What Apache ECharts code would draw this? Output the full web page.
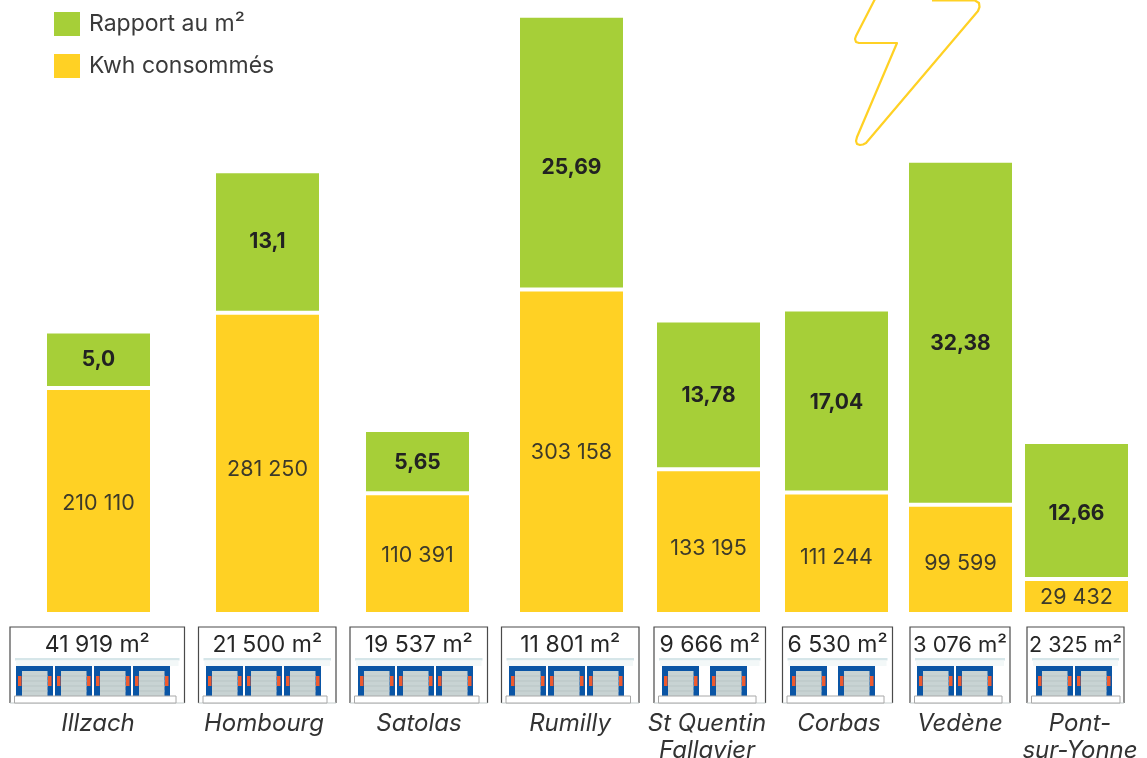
<!DOCTYPE html>
<html>
<head>
<meta charset="utf-8">
<title>Kwh consommés</title>
<script src="https://cdn.jsdelivr.net/npm/echarts@6/dist/echarts.min.js"></script>
<style>
html,body{margin:0;padding:0;background:#fff;}
#chart{width:1147px;height:758px;}
</style>
</head>
<body>
<div id="chart"></div>
<script>
// valeurs
var sites = ['Illzach','Hombourg','Satolas','Rumilly','St Quentin\nFallavier','Corbas','Vedène','Pont-\nsur-Yonne'];
var kwh = [210110,281250,110391,303158,133195,111244,99599,29432];
var rapport = [5.0,13.1,5.65,25.69,13.78,17.04,32.38,12.66];
var rapportLabels = ['5,0','13,1','5,65','25,69','13,78','17,04','32,38','12,66'];
var surfaces = ['41 919 m²','21 500 m²','19 537 m²','11 801 m²','9 666 m²','6 530 m²','3 076 m²','2 325 m²'];
var portes = [4,3,3,3,2,2,2,2];

// mise en page (en pixels, l'axe x va de 0 a 1147)
var barX = [98.5,267.5,417.5,571.5,708.5,836.5,960.5,1076.5];
var siteX = [98,264,419,570,707,839,960,1080];
var boxLeft = [10,198.5,350,501.5,654,782.5,910,1027];
var boxRight = [184.5,336,487.5,639,765.5,892.5,1010,1124];
var baseRight = [176,327,479,630.5,756,884,1002,1120];
var doorX = [16,206,358,509,662,790,917,1036];
var doorPitch = [39,39,39,39,48,48,39,39];
var surfaceSize = [23,23,23,23,23,23,22,21.5];
var kwhLabelDy = [3,6,2,1,7,4,4,1];       // les textes ne sont pas tous au milieu
var rapportLabelDy = [0,0,1,15,1,2,11,3];
var boltPoints = [[875,-1],[856,36],[855,39],[856,42],[859,43],[897,43],[857,137],[856,141],[857,144],[860,145],[863,144.5],[866,143],[978,11],[979.5,7],[979,3],[975,0.5],[932,0.5]];

var FONT = 'Inter, "Noto Sans", sans-serif';
var GREEN = '#a6cf38';
var YELLOW = '#ffd124';
var BAR_W = 103;
var RATIO_SCALE = 9934; // les deux series n'ont pas la meme echelle
var GAP = 3784;         // blanc entre le jaune et le vert

function fmtKwh(v){
	return String(v).replace(/\B(?=(\d{3})+$)/g,' ');
}

// rectangle de bas a haut, avec son texte au milieu
function barRenderer(color,labels,labelDy,textStyle){
	return function(params,api){
		var p0 = api.coord([api.value(0),api.value(1)]);
		var p1 = api.coord([api.value(0),api.value(2)]);
		return {type:'group',children:[
			{type:'rect',shape:{x:p0[0]-BAR_W/2,y:p1[1],width:BAR_W,height:p0[1]-p1[1]},style:{fill:color}},
			{type:'text',style:{x:p0[0],y:(p0[1]+p1[1])/2+labelDy[params.dataIndex],text:labels[params.dataIndex],textAlign:'center',textVerticalAlign:'middle',
				fontSize:textStyle.fontSize,fontWeight:textStyle.fontWeight,fontFamily:FONT,fill:textStyle.fill}}
		]};
	};
}

function buildGraphic(){
	var g = [];
	// eclair
	g.push({type:'polyline',shape:{points:boltPoints},style:{fill:'none',stroke:YELLOW,lineWidth:2.2,lineJoin:'round'}});
	sites.forEach(function(name,i){
		var l = boxLeft[i], r = boxRight[i];
		g.push({type:'polyline',shape:{points:[[l,703],[l,627],[r,627],[r,703]]},style:{fill:'none',stroke:'#4a4a4a',lineWidth:1.2}});
		g.push({type:'line',shape:{x1:l,y1:703,x2:r,y2:703},style:{stroke:'#c4cccc',lineWidth:1}});
		g.push({type:'text',style:{x:(l+r)/2,y:645.5,text:surfaces[i],textAlign:'center',textVerticalAlign:'middle',fontSize:surfaceSize[i],fontFamily:FONT,fill:'#262626'}});
		// auvent
		g.push({type:'rect',shape:{x:l+5,y:658,width:r-l-10,height:2.5},style:{fill:'#d6e6e9'}});
		g.push({type:'rect',shape:{x:l+6,y:660.5,width:r-l-12,height:5.5},style:{fill:'#f3f8f8'}});
		for(var d=0;d<portes[i];d++){
			var x = doorX[i]+d*doorPitch[i];
			g.push({type:'rect',shape:{x:x,y:666,width:37,height:30},style:{fill:'#0a55a5'}});
			g.push({type:'rect',shape:{x:x+6,y:671,width:25.5,height:25},style:{fill:'#c8d3d3'}});
			for(var s=1;s<5;s++){
				g.push({type:'line',shape:{x1:x+6,y1:671+s*5,x2:x+31.5,y2:671+s*5},style:{stroke:'#b9c5c5',lineWidth:1}});
			}
			g.push({type:'rect',shape:{x:x+2,y:676,width:3.5,height:10},style:{fill:'#ee5a2e'}});
			g.push({type:'rect',shape:{x:x+32,y:676,width:3.5,height:10},style:{fill:'#ee5a2e'}});
		}
		// quai
		g.push({type:'rect',shape:{x:l+4.5,y:696,width:baseRight[i]-l-4.5,height:7},style:{fill:'#fff',stroke:'#a8a8a8',lineWidth:1}});
		g.push({type:'text',style:{x:siteX[i],y:name.indexOf('\n')>0?737:723.5,text:name,textAlign:'center',textVerticalAlign:'middle',
			fontSize:24,fontStyle:'italic',fontFamily:FONT,fill:'#333',lineHeight:27}});
	});
	return g;
}

var chart = echarts.init(document.getElementById('chart'));
chart.setOption({
	animation:false,
	backgroundColor:'#fff',
	textStyle:{fontFamily:FONT},
	grid:{left:0,right:0,top:0,bottom:146},
	legend:{
		left:54,top:12,padding:0,orient:'vertical',selectedMode:false,icon:'rect',
		itemWidth:26,itemHeight:24,itemGap:18,
		textStyle:{fontSize:23,color:'#3a3a3a',fontFamily:FONT,padding:[4,0,0,4]},
		data:['Rapport au m²','Kwh consommés']
	},
	xAxis:{type:'value',min:0,max:1147,show:false},
	yAxis:{type:'value',min:0,max:579000,show:false},
	series:[
		{
			name:'Kwh consommés',type:'custom',
			itemStyle:{color:YELLOW},
			encode:{x:0,y:[1,2]},
			renderItem:barRenderer(YELLOW,kwh.map(fmtKwh),kwhLabelDy,{fontSize:21.5,fill:'#3d3a2a'}),
			data:kwh.map(function(v,i){return [barX[i],0,v];})
		},
		{
			name:'Rapport au m²',type:'custom',
			itemStyle:{color:GREEN},
			encode:{x:0,y:[1,2]},
			renderItem:barRenderer(GREEN,rapportLabels,rapportLabelDy,{fontSize:21,fontWeight:'bold',fill:'#222'}),
			data:rapport.map(function(v,i){return [barX[i],kwh[i]+GAP,kwh[i]+GAP+v*RATIO_SCALE];})
		}
	],
	graphic:{elements:buildGraphic()}
});
</script>
</body>
</html>
